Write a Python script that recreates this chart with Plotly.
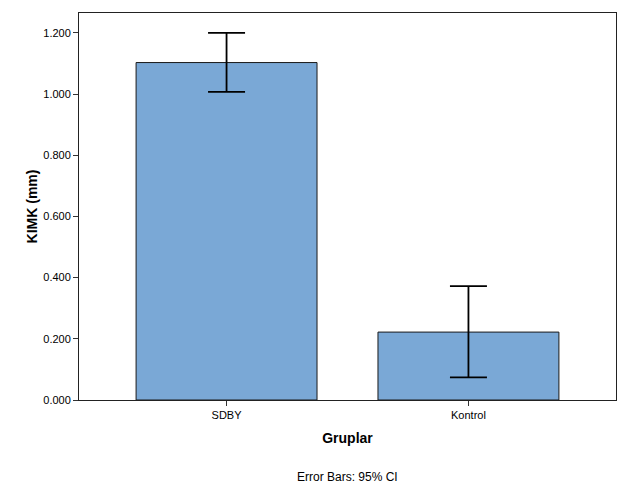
import plotly.graph_objects as go

categories = ["SDBY", "Kontrol"]
means = [1.103, 0.222]
ci_plus = [0.097, 0.150]
ci_minus = [0.096, 0.148]
tick_vals = [0.0, 0.2, 0.4, 0.6, 0.8, 1.0, 1.2]
tick_text = ["0.000", "0.200", "0.400", "0.600", "0.800", "1.000", "1.200"]

font_family = "Arial, Liberation Sans, sans-serif"

fig = go.Figure()
fig.add_trace(go.Bar(
    x=[0, 1],
    y=means,
    width=0.748,
    marker=dict(color="#7aa8d6", line=dict(color="#1a1a1a", width=1)),
    error_y=dict(type="data", symmetric=False, array=ci_plus, arrayminus=ci_minus,
                 color="black", thickness=1.8, width=18.5),
))

fig.update_layout(
    width=621, height=496,
    margin=dict(l=71, r=13, t=5, b=104),
    paper_bgcolor="white", plot_bgcolor="white",
    showlegend=False,
    font=dict(family=font_family, size=11, color="black"),
    xaxis=dict(
        range=[-0.61, 1.61],
        tickvals=[0, 1], ticktext=categories,
        ticks="outside", ticklen=5, tickcolor="#333333",
        showline=True, linecolor="#222222", linewidth=1, mirror=True,
        showgrid=False, zeroline=False,
        title=dict(text="<b>Gruplar</b>", font=dict(size=14, family=font_family), standoff=12),
    ),
    yaxis=dict(
        range=[0, 1.265],
        tickvals=tick_vals, ticktext=tick_text,
        ticks="outside", ticklen=5, tickcolor="#333333",
        showline=True, linecolor="#222222", linewidth=1, mirror=True,
        showgrid=False, zeroline=False,
        title=dict(text="<b>KIMK (mm)</b>", font=dict(size=14, family=font_family), standoff=2),
    ),
    annotations=[dict(
        text="Error Bars: 95% CI", xref="paper", yref="paper",
        x=0.5, y=-0.2, xanchor="center", yanchor="middle",
        showarrow=False, font=dict(size=12, family=font_family),
    )],
)

fig.write_html("out.html")
